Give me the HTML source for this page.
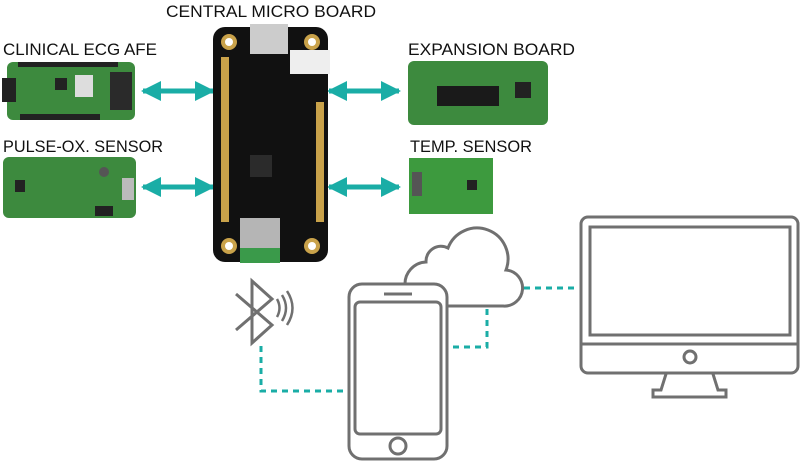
<!DOCTYPE html>
<html><head><style>body{margin:0;background:#fff}svg{display:block}</style></head><body>
<svg width="800" height="461" viewBox="0 0 800 461" xmlns="http://www.w3.org/2000/svg" font-family="Liberation Sans, sans-serif">
<defs>
<marker id="ah" viewBox="0 0 10 10" refX="9" refY="5" markerWidth="4" markerHeight="4" orient="auto-start-reverse"><path d="M0,0L10,5L0,10z" fill="#1aada6"/></marker>
</defs>
<g font-size="17" fill="#111">
<text x="166" y="17" textLength="210" lengthAdjust="spacingAndGlyphs">CENTRAL MICRO BOARD</text>
<text x="3" y="55" textLength="154" lengthAdjust="spacingAndGlyphs">CLINICAL ECG AFE</text>
<text x="3" y="152" textLength="160" lengthAdjust="spacingAndGlyphs">PULSE-OX. SENSOR</text>
<text x="408" y="55" textLength="167" lengthAdjust="spacingAndGlyphs">EXPANSION BOARD</text>
<text x="410" y="152" textLength="122" lengthAdjust="spacingAndGlyphs">TEMP. SENSOR</text>
</g>
<g stroke="#1aada6" stroke-width="5" marker-start="url(#ah)" marker-end="url(#ah)">
<line x1="143" y1="91" x2="213" y2="91"/><line x1="143" y1="187" x2="213" y2="187"/>
<line x1="329" y1="91" x2="399" y2="91"/><line x1="329" y1="187" x2="399" y2="187"/>
</g>
<rect x="7" y="62" width="128" height="58" rx="6" fill="#3d8a3e"/>
<rect x="18" y="62" width="100" height="5" fill="#222"/><rect x="20" y="114" width="80" height="6" fill="#222"/>
<rect x="2" y="78" width="14" height="24" fill="#222"/><rect x="110" y="72" width="22" height="38" fill="#2a2a2a"/>
<rect x="75" y="75" width="18" height="22" fill="#ddd"/><rect x="55" y="78" width="12" height="12" fill="#222"/>
<rect x="3" y="157" width="133" height="61" rx="6" fill="#3d8a3e"/>
<rect x="122" y="178" width="12" height="22" fill="#bbb"/><rect x="95" y="206" width="18" height="10" fill="#222"/>
<circle cx="104" cy="172" r="5" fill="#555"/><rect x="15" y="180" width="10" height="12" fill="#222"/>
<rect x="213" y="27" width="115" height="235" rx="12" fill="#111"/>
<rect x="250" y="24" width="38" height="30" fill="#ccc"/>
<rect x="290" y="50" width="40" height="24" fill="#eee"/>
<g fill="#c9a24a"><circle cx="229" cy="42" r="8"/><circle cx="312" cy="42" r="8"/><circle cx="229" cy="246" r="8"/><circle cx="312" cy="246" r="8"/></g>
<g fill="#fff"><circle cx="229" cy="42" r="4"/><circle cx="312" cy="42" r="4"/><circle cx="229" cy="246" r="4"/><circle cx="312" cy="246" r="4"/></g>
<g fill="#c9a24a">
<rect x="221" y="57" width="8" height="165"/><rect x="316" y="102" width="8" height="120"/>
</g>
<rect x="250" y="155" width="22" height="22" fill="#2b2b2b"/>
<rect x="240" y="218" width="40" height="45" fill="#b5b5b5"/><rect x="240" y="248" width="40" height="15" fill="#3a9a4a"/>
<rect x="408" y="61" width="140" height="64" rx="6" fill="#3d8a3e"/>
<rect x="437" y="86" width="62" height="20" fill="#1a1a1a"/><rect x="515" y="82" width="16" height="16" fill="#222"/>
<rect x="409" y="158" width="84" height="56" fill="#3d9a3e"/>
<rect x="412" y="172" width="10" height="24" fill="#555"/><rect x="467" y="180" width="10" height="10" fill="#222"/>
<g fill="none" stroke="#707070" stroke-width="3">
<path d="M236,294 L272,325 L252,343 L252,281 L272,299 L236,330"/>
<path d="M277,299 q5,9 0,18 M282,295 q8,13 0,26 M287,291 q11,17 0,34" stroke-width="2.5"/>
<path d="M428,306 L503,306 A18,18 0 0 0 506,270 A31,31 0 0 0 448,248 A15,15 0 0 0 426,262 A22,22 0 0 0 428,306z" fill="#fff"/>
<rect x="349" y="284" width="98" height="175" rx="13" fill="#fff"/>
<rect x="355" y="302" width="86" height="132" rx="5"/>
<line x1="384" y1="294" x2="412" y2="294"/>
<circle cx="398" cy="446" r="8"/>
<rect x="581" y="217" width="217" height="156" rx="7"/>
<rect x="590" y="227" width="200" height="108"/>
<line x1="581" y1="344" x2="798" y2="344"/>
<circle cx="690" cy="357" r="6"/>
<path d="M666,374 L661,390 L653,390 L653,397 L726,397 L726,390 L718,390 L713,374"/>
</g>
<g fill="none" stroke="#1aada6" stroke-width="3" stroke-dasharray="6,5">
<path d="M261,346 L261,391 L345,391"/>
<path d="M487,309 L487,347 L449,347"/>
<path d="M524,288 L578,288"/>
</g>
</svg>
</body></html>
